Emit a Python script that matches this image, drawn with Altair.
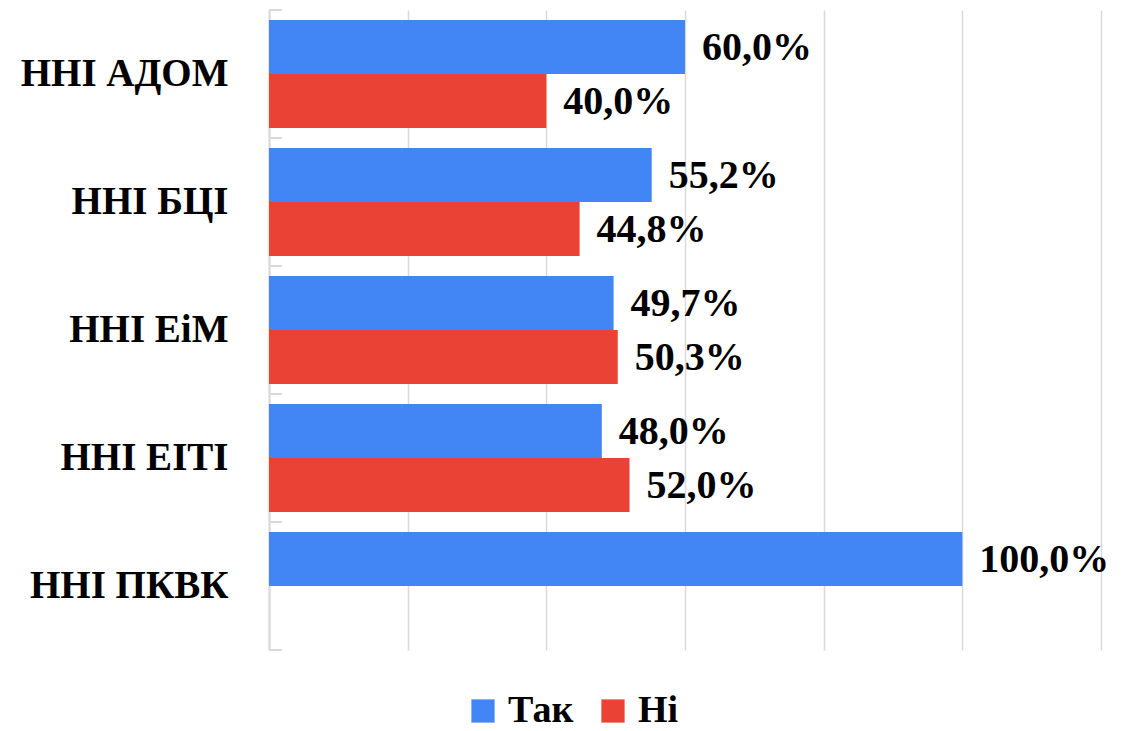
import altair as alt
import pandas as pd

categories = ["ННІ АДОМ", "ННІ БЦІ", "ННІ ЕіМ", "ННІ ЕІТІ", "ННІ ПКВК"]
series_names = ["Так", "Ні"]
tak_values = [60.0, 55.2, 49.7, 48.0, 100.0]
ni_values = [40.0, 44.8, 50.3, 52.0, None]
colors = ["#4285F4", "#EA4335"]
x_ticks = [0, 20, 40, 60, 80, 100, 120]

rows = []
for c, t, n in zip(categories, tak_values, ni_values):
    for s, v in zip(series_names, [t, n]):
        if v is not None:
            rows.append({"cat": c, "series": s, "value": v,
                         "label": f"{v:.1f}%".replace(".", ",")})
df = pd.DataFrame(rows)
cat_df = pd.DataFrame({"cat": categories})

FONT = "Liberation Serif"
W, H = 832, 640

y_enc = alt.Y("cat:N", sort=categories, title=None,
              scale=alt.Scale(paddingInner=0, paddingOuter=0),
              axis=alt.Axis(labelFont=FONT, labelFontSize=39, labelFontWeight="bold",
                            labelColor="#000000", labelPadding=41, ticks=False,
                            domainColor="#d9d9d9", domainWidth=2, labelLimit=400))
yoff = alt.YOffset("series:N", sort=series_names,
                   scale=alt.Scale(paddingOuter=0.185, paddingInner=0))
x_enc = alt.X("value:Q", title=None,
              scale=alt.Scale(domain=[0, 120], nice=False),
              axis=alt.Axis(values=x_ticks, labels=False, ticks=False, domain=False,
                            grid=True, gridColor="#d9d9d9", gridWidth=1.5))

bars = alt.Chart(df).mark_bar().encode(
    x=x_enc,
    y=y_enc,
    yOffset=yoff,
    color=alt.Color("series:N", sort=series_names,
                    scale=alt.Scale(domain=series_names, range=colors),
                    legend=alt.Legend(title=None, orient="none", direction="horizontal",
                                      legendX=195, legendY=682,
                                      symbolType="square", symbolSize=540,
                                      symbolStrokeWidth=0,
                                      labelFont=FONT, labelFontSize=38,
                                      labelFontWeight="bold", labelColor="#000000",
                                      columnPadding=20, labelOffset=6)),
)

text = alt.Chart(df).mark_text(align="left", baseline="middle", dx=17, dy=1,
                               font=FONT, fontSize=40, fontWeight="bold",
                               color="#000000").encode(
    x="value:Q",
    y=alt.Y("cat:N", sort=categories),
    yOffset=alt.YOffset("series:N", sort=series_names),
    text="label:N",
)

ticks_top = alt.Chart(cat_df).mark_rule(color="#d9d9d9", strokeWidth=2).encode(
    y=alt.Y("cat:N", sort=categories, bandPosition=0),
    x=alt.value(0), x2=alt.value(13),
)
tick_bottom = alt.Chart(cat_df).mark_rule(color="#d9d9d9", strokeWidth=2).encode(
    y=alt.value(H), x=alt.value(0), x2=alt.value(13),
)

chart = alt.layer(bars, text, ticks_top, tick_bottom).properties(
    width=W, height=H,
    autosize=alt.AutoSizeParams(type="none"),
    padding={"left": 261, "top": 2, "right": 27, "bottom": 81},
    background="#ffffff",
).configure_view(stroke=None)

chart.save("out.html", embed_options={"renderer": "svg", "actions": False})
